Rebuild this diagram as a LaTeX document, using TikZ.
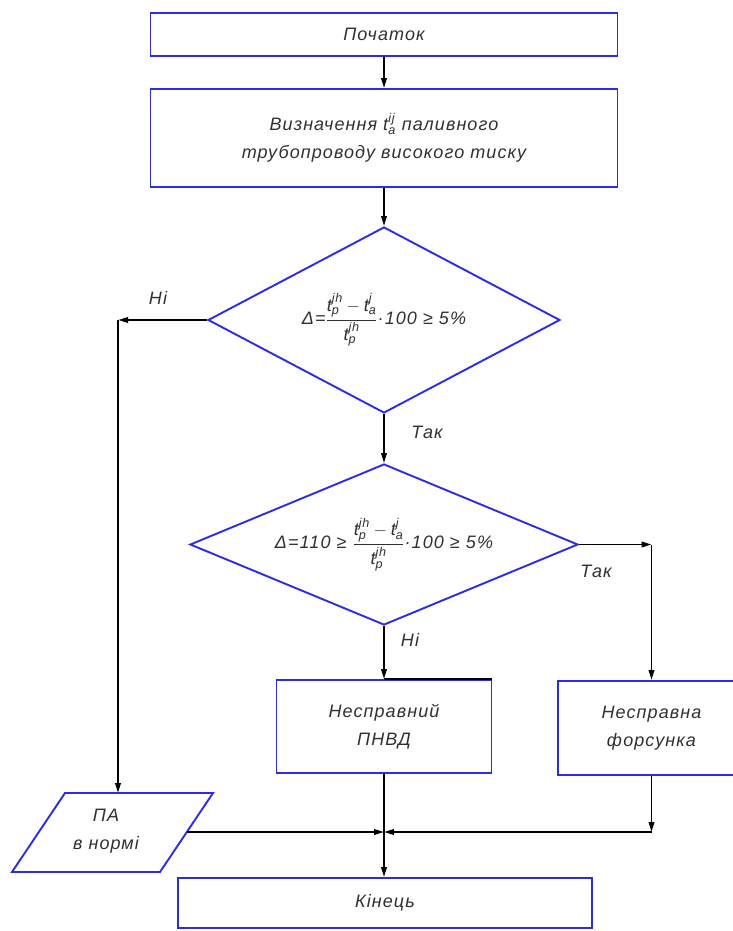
\documentclass[tikz,border=0pt]{standalone}
\usepackage{fontspec}
\usepackage{amsmath}
\setmainfont{Liberation Sans}[LetterSpace=6]
\usetikzlibrary{shapes.geometric,arrows.meta}
\definecolor{bl}{HTML}{2A2AF2}
\definecolor{tx}{HTML}{303030}
\newcommand\txtfont{\itshape\fontsize{18}{28}\selectfont}
\newcommand\tv[2]{\text{t}^{\text{#2}}_{\text{#1}}}
\tikzset{
  box/.style={draw=bl, line width=1.9pt, inner sep=0pt, font=\txtfont, text=tx, align=center},
  dia/.style={diamond, draw=bl, line width=1.9pt, inner sep=0pt, font=\txtfont, text=tx},
  arr/.style={draw=black, line width=1.9pt, -{Triangle[length=10pt,width=5.5pt]}},
  lbl/.style={font=\txtfont, text=tx, inner sep=0pt}
}
\begin{document}
\begin{tikzpicture}[x=1pt,y=-1pt]
\useasboundingbox (0,0) rectangle (732,931);
\node[box, minimum width=467pt, minimum height=43pt] (start) at (384,34.5) {Початок};
\node[box, minimum width=467pt, minimum height=98pt] (det) at (384,138) {Визначення $\tv{а}{ij}$ паливного\\трубопроводу високого тиску};
\node[dia, minimum width=352pt, minimum height=186pt, aspect=1.9] (d1) at (384,320)
  {$\text{Δ=}\dfrac{\tv{р}{jh}-\tv{а}{j}}{\tv{р}{jh}}\text{·100 ≥ 5\%}$};
\node[dia, minimum width=388pt, minimum height=161pt, aspect=2.4] (d2) at (384,544.5)
  {$\text{Δ=110 ≥ }\dfrac{\tv{р}{jh}-\tv{а}{j}}{\tv{р}{jh}}\text{·100 ≥ 5\%}$};
\node[box, minimum width=215pt, minimum height=93pt] (pnvd) at (384,726.5) {Несправний\\ПНВД};
\node[box, minimum width=187pt, minimum height=94pt] (f) at (651.5,728) {Несправна\\форсунка};
\node[box, minimum width=414pt, minimum height=50pt] (kin) at (385,903) {Кінець};
% parallelogram
\coordinate (pa1) at (65,793);
\coordinate (pa2) at (213,793);
\coordinate (pa3) at (160,872);
\coordinate (pa4) at (12,872);
\draw[draw=bl, line width=1.9pt, line join=miter] (pa1) -- (pa2) -- (pa3) -- (pa4) -- cycle;
\node[lbl, align=center] (pa) at (106,831) {ПА\\в нормі};
% black part of top edge of pnvd
\draw[black, line width=1.9pt] (pnvd.north) -- (pnvd.north east);
% connectors
\draw[arr] (start.south) -- (det.north);
\draw[arr] (det.south) -- (d1.north);
\draw[arr] (d1.south) -- (d2.north);
\coordinate (cL) at (118,320);
\draw[arr] (d1.west) -- (cL);
\draw[arr] (cL) -- (cL |- pa1);
\coordinate (cR) at (d2.east -| f.north);
\draw[arr] (d2.east) -- (cR);
\draw[arr] (cR) -- (f.north);
\draw[arr] (d2.south) -- (pnvd.north);
\coordinate (m) at (384,832);
\coordinate (paR) at (187,832);
\coordinate (fC) at (f.south |- m);
\draw[arr] (f.south) -- (fC);
\draw[arr] (fC) -- (m);
\draw[arr] (paR) -- (m);
\draw[arr] (pnvd.south) -- (pnvd.south |- kin.north);
% labels
\node[lbl] (l1) at (158,298) {Ні};
\node[lbl] (l2) at (427,432) {Так};
\node[lbl] (l3) at (596,571) {Так};
\node[lbl] (l4) at (410,640) {Ні};
\end{tikzpicture}
\end{document}
